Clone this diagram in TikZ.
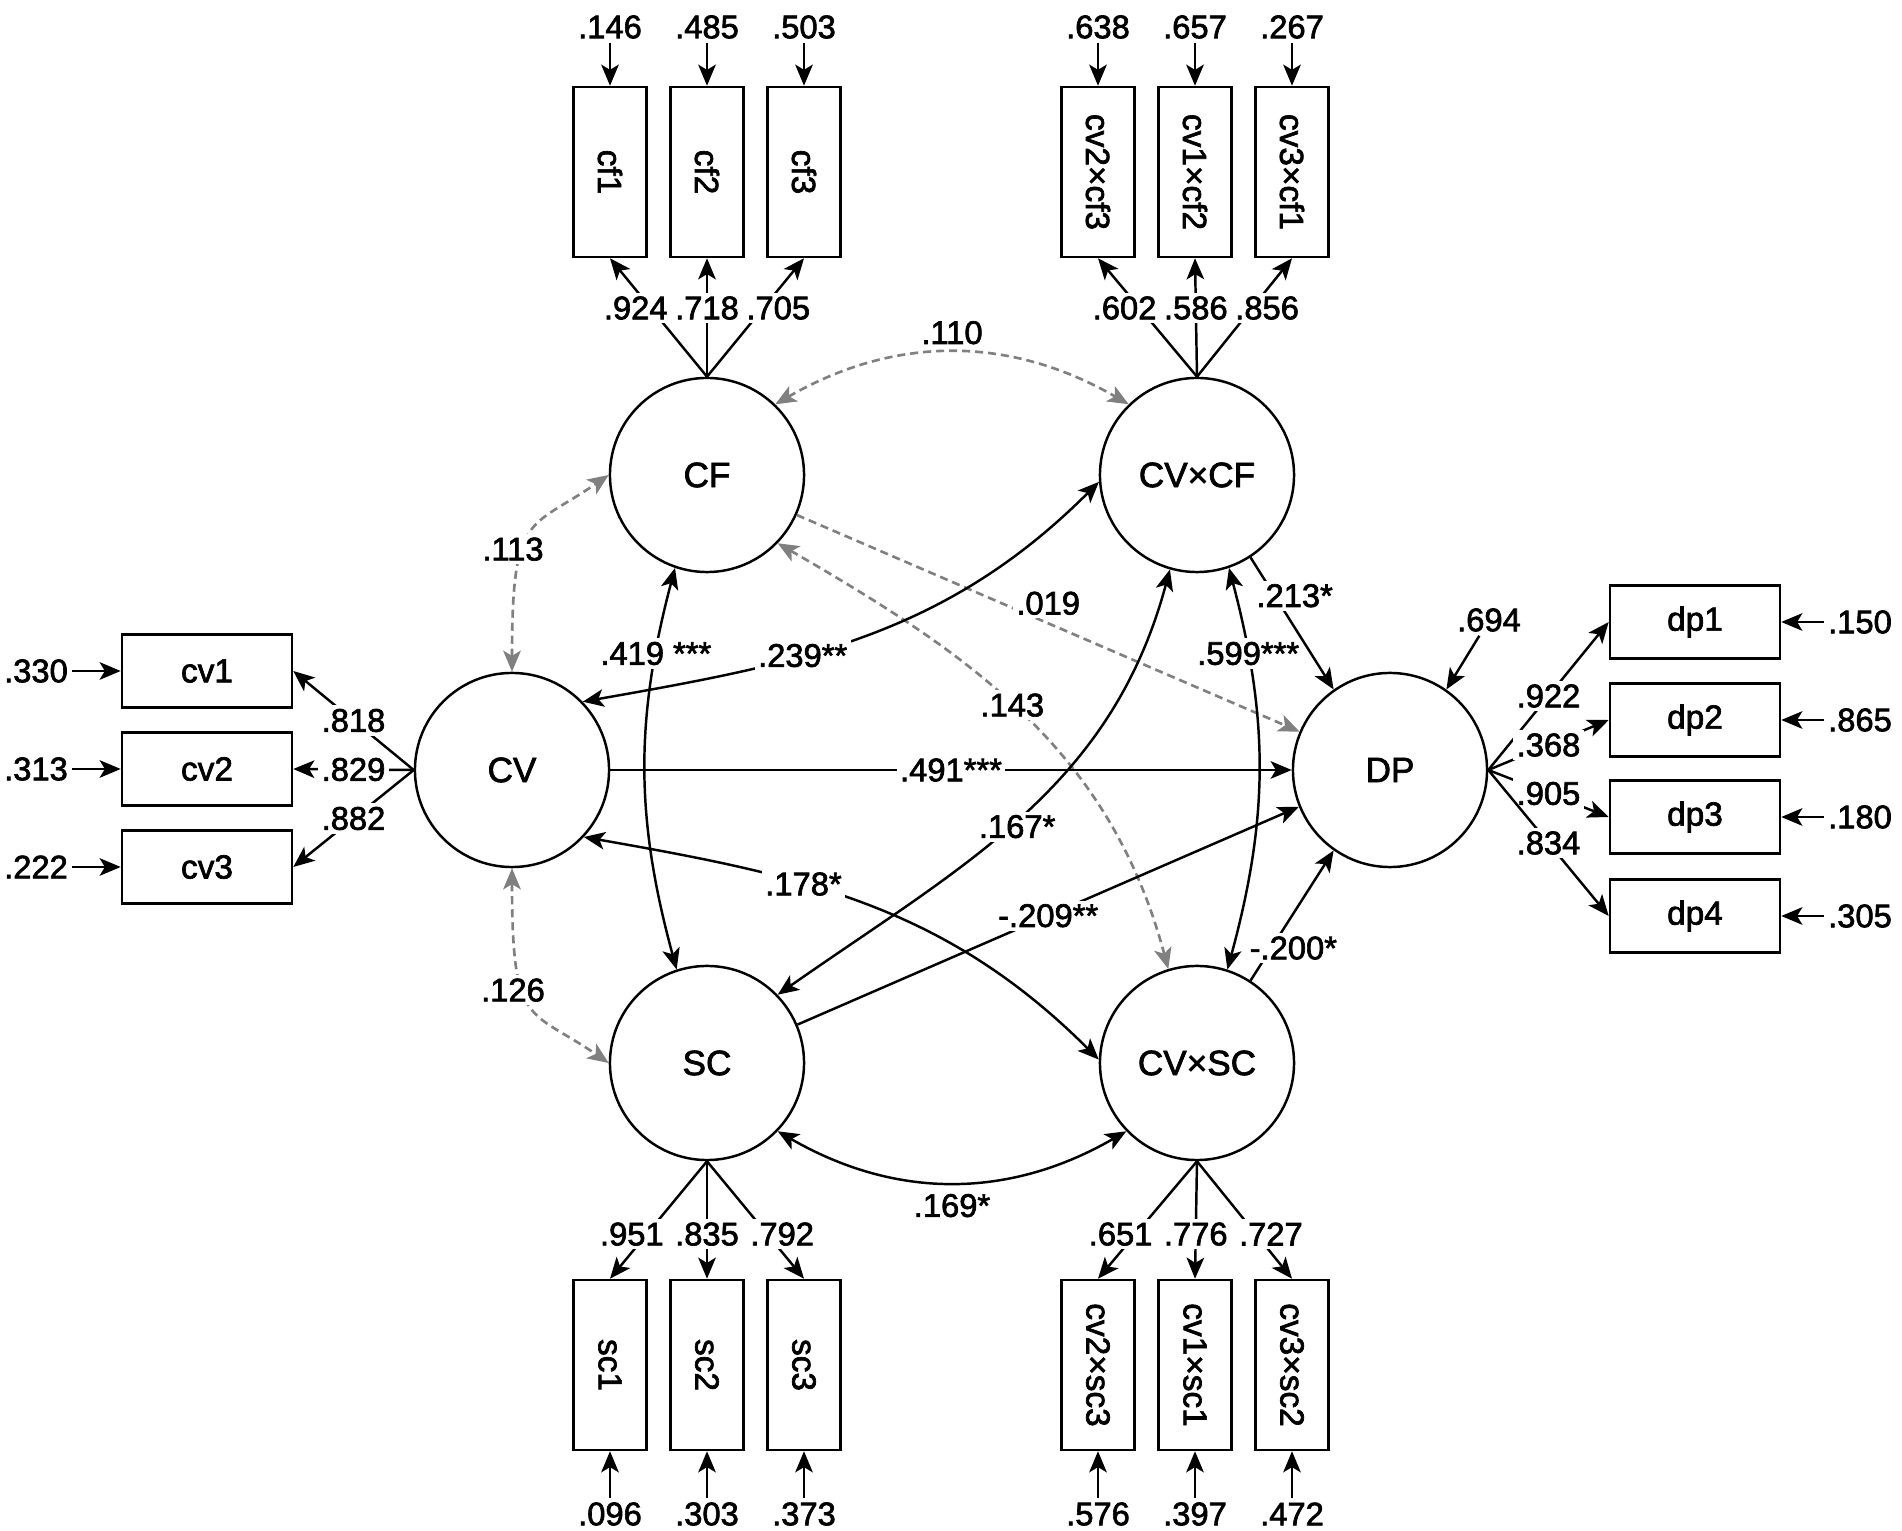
\documentclass[tikz,border=0pt]{standalone}
\usepackage{fontspec}
\setmainfont{Liberation Sans}[FakeBold=2]
\usetikzlibrary{arrows.meta}
\tikzset{
    latent-var/.style = {draw, circle, line width=0.7pt, minimum size=1.94cm, inner sep=0pt, font=\fontsize{10}{12}\selectfont},
    obs-box/.style = {draw, rectangle, line width=0.7pt, minimum width=1.70cm, minimum height=0.73cm, inner sep=0pt, font=\fontsize{9.5}{11}\selectfont},
    obs-box-v/.style = {obs-box, minimum width=0.73cm, minimum height=1.70cm},
    num-label/.style = {inner sep=1pt, text=black, font=\fontsize{9.3}{11}\selectfont},
    path-label/.style = {num-label, fill=white},
    one-way/.style = {line width=0.7pt, -{Stealth[length=6pt, width=5pt, inset=1.5pt]}},
    two-way/.style = {line width=0.7pt, {Stealth[length=6pt, width=5pt, inset=1.5pt]}-{Stealth[length=6pt, width=5pt, inset=1.5pt]}},
    dashed-gray/.style = {gray, line width=0.75pt, dash pattern=on 2.3pt off 1.4pt},
}

\begin{document}
\begin{tikzpicture}[x=0.01cm, y=-0.01cm]
\useasboundingbox (0,0) rectangle (1902,1531);

\node[latent-var] (CF) at (707,475) {CF};
\node[latent-var] (CVCF) at (1197,475) {CV×CF};
\node[latent-var] (CV) at (512,770) {CV};
\node[latent-var] (DP) at (1390,770) {DP};
\node[latent-var] (SC) at (707,1063) {SC};
\node[latent-var] (CVSC) at (1197,1063) {CV×SC};

\draw[two-way, dashed-gray] (CF.46) to[bend left=30] node[num-label, above=1pt] {.110} (CVCF.134);
\draw[two-way, dashed-gray] (CV.north) .. controls +(0,1.6cm) and +(-0.8cm,-0.55cm) .. node[path-label, pos=0.4, xshift=-0.1cm] {.113} (CF.west);
\draw[two-way, dashed-gray] (CV.south) .. controls +(0,-1.6cm) and +(-0.8cm,0.55cm) .. node[path-label, pos=0.4, xshift=-0.1cm] {.126} (SC.west);
\draw[two-way, dashed-gray] (CF.-44) to[out=-30, in=105] node[path-label, pos=0.47] {.143} (CVSC.107);
\draw[one-way, dashed-gray] (CF.-24) -- node[path-label, pos=0.5, yshift=0.2cm] {.019} (DP.157);

\draw[one-way] (CV) -- node[path-label] {.491***} (DP);
\draw[two-way] (CF.-109) to[bend right=15] node[path-label, pos=0.2] {.419 ***} (SC.108);
\draw[two-way] (CVCF.-71) to[bend left=15] node[path-label, pos=0.2] {.599***} (CVSC.72);
\draw[two-way] (CV.44) to[out=10, in=225] node[path-label, pos=0.38] {.239**} (CVCF.184);
\draw[two-way] (CV.-43) to[out=-10, in=135] node[path-label, pos=0.38] {.178*} (CVSC.178);
\draw[two-way] (SC.44) to[out=35, in=-105] node[path-label, pos=0.47, xshift=0.08cm] {.167*} (CVCF.-106);
\draw[one-way] (SC.23) -- node[path-label] {-.209**} (DP.202);
\draw[one-way] (CVCF.-57) -- node[path-label, pos=0.29, xshift=0.2cm] {.213*} (DP.125);
\draw[one-way] (CVSC.57) -- node[path-label, pos=0.25, xshift=0.22cm] {-.200*} (DP.-125);
\draw[two-way] (SC.-44) to[bend right=30] node[num-label, below=2pt] {.169*} (CVSC.-136);

\node[num-label] (e-DP) at (1489,620) {.694};
\draw[one-way] (e-DP) -- (DP.55);

\foreach \nm/\txt/\x/\sh/\ld/\er in {cf1/cf1/610/-0.15/.924/.146, cf2/cf2/707/0/.718/.485, cf3/cf3/804/0.15/.705/.503}{
  \node[obs-box-v] (\nm) at (\x,172) {\rotatebox{-90}{\txt}};
  \node[num-label] (e-\nm) at (\x,27) {\er};
  \draw[one-way] (e-\nm) -- (\nm);
  \draw[one-way] (CF.north) -- node[path-label, pos=0.58, xshift=\sh cm] {\ld} (\nm.south);
}
\foreach \nm/\txt/\x/\sh/\ld/\er in {cv2cf3/cv2×cf3/1098/-0.15/.602/.638, cv1cf2/cv1×cf2/1195/0/.586/.657, cv3cf1/cv3×cf1/1292/0.15/.856/.267}{
  \node[obs-box-v] (\nm) at (\x,172) {\rotatebox{-90}{\txt}};
  \node[num-label] (e-\nm) at (\x,27) {\er};
  \draw[one-way] (e-\nm) -- (\nm);
  \draw[one-way] (CVCF.north) -- node[path-label, pos=0.58, xshift=\sh cm] {\ld} (\nm.south);
}
\foreach \nm/\txt/\x/\sh/\ld/\er in {sc1/sc1/610/-0.15/.951/.096, sc2/sc2/707/0/.835/.303, sc3/sc3/804/0.15/.792/.373}{
  \node[obs-box-v] (\nm) at (\x,1365) {\rotatebox{-90}{\txt}};
  \node[num-label] (e-\nm) at (\x,1514) {\er};
  \draw[one-way] (e-\nm) -- (\nm);
  \draw[one-way] (SC.south) -- node[path-label, pos=0.62, xshift=\sh cm] {\ld} (\nm.north);
}
\foreach \nm/\txt/\x/\sh/\ld/\er in {cv2sc3/cv2×sc3/1098/-0.15/.651/.576, cv1sc1/cv1×sc1/1195/0/.776/.397, cv3sc2/cv3×sc2/1292/0.15/.727/.472}{
  \node[obs-box-v] (\nm) at (\x,1365) {\rotatebox{-90}{\txt}};
  \node[num-label] (e-\nm) at (\x,1514) {\er};
  \draw[one-way] (e-\nm) -- (\nm);
  \draw[one-way] (CVSC.south) -- node[path-label, pos=0.62, xshift=\sh cm] {\ld} (\nm.north);
}
\foreach \nm/\y/\ld/\er in {cv1/671/.818/.330, cv2/769/.829/.313, cv3/867/.882/.222}{
  \node[obs-box] (\nm) at (207,\y) {\nm};
  \node[num-label] (e-\nm) at (36,\y) {\er};
  \draw[one-way] (e-\nm) -- (\nm);
  \draw[one-way] (CV.west) -- node[path-label, pos=0.5] {\ld} (\nm.east);
}
\foreach \nm/\y/\ld/\er in {dp1/622/.922/.150, dp2/720/.368/.865, dp3/817/.905/.180, dp4/916/.834/.305}{
  \node[obs-box] (\nm) at (1695,\y) {\nm};
  \node[num-label] (e-\nm) at (1860,\y) {\er};
  \draw[one-way] (e-\nm) -- (\nm);
  \draw[one-way] (DP.east) -- node[path-label, pos=0.5] {\ld} (\nm.west);
}
\end{tikzpicture}
\end{document}
